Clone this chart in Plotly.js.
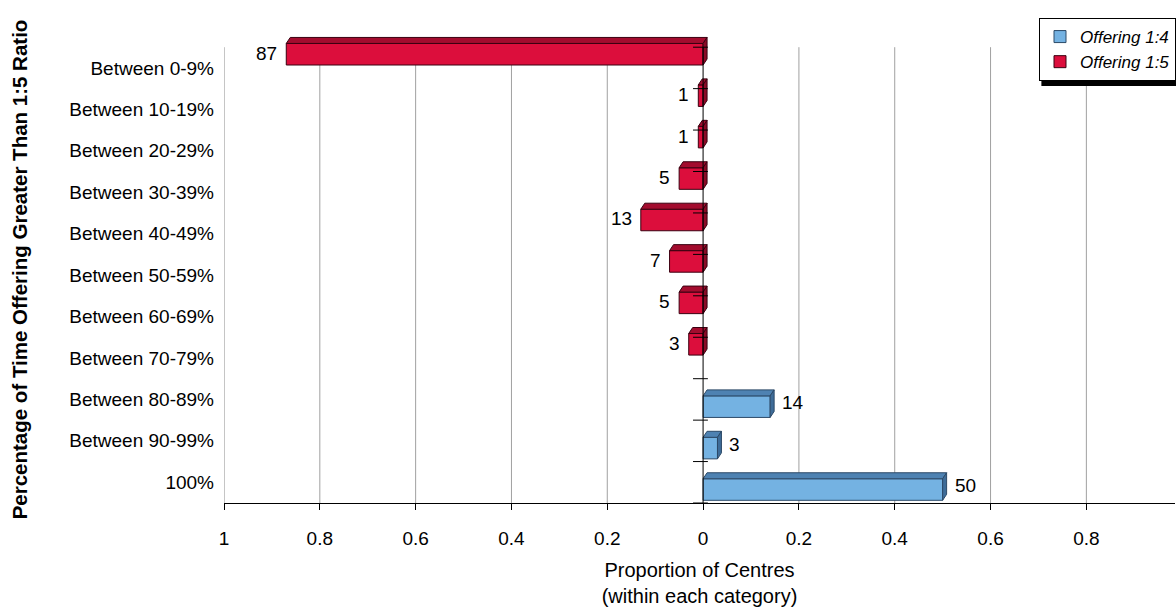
<!DOCTYPE html>
<html>
<head>
<meta charset="utf-8">
<script src="https://cdn.plot.ly/plotly-3.0.1.min.js"></script>
<style>html,body{margin:0;padding:0;background:#fff;}#chart{width:1176px;height:607px;}</style>
</head>
<body>
<div id="chart"></div>
<script>
// ---- data ----
const categories = ['Between 0-9%','Between 10-19%','Between 20-29%','Between 30-39%','Between 40-49%',
  'Between 50-59%','Between 60-69%','Between 70-79%','Between 80-89%','Between 90-99%','100%'];
const share14 = [null,null,null,null,null,null,null,null,0.14,0.03,0.50];   // Offering 1:4 (right)
const share15 = [0.87,0.01,0.01,0.05,0.13,0.07,0.05,0.03,null,null,null];   // Offering 1:5 (left)
const count14 = [null,null,null,null,null,null,null,null,14,3,50];
const count15 = [87,1,1,5,13,7,5,3,null,null,null];
const xTickVals = [-1,-0.8,-0.6,-0.4,-0.2,0,0.2,0.4,0.6,0.8,1];
const xTickText = ['1','0.8','0.6','0.4','0.2','0','0.2','0.4','0.6','0.8','1'];

// ---- styling ----
const FONT = 'Liberation Sans, Arial, sans-serif';
const BLUE = '#74B2E2', BLUE_TOP = '#4E82B2', BLUE_SIDE = '#3E6C98', BLUE_LINE = '#2C4A68';
const RED = '#DC0E3C', RED_TOP = '#A30C2E', RED_SIDE = '#8A0A26', RED_LINE = '#3A0010';
const W = 0.52;            // bar thickness (category units)
const OFF15 = -0.59, OFF14 = -0.085;
const DX = 0.0083, DY = 0.145;   // 3D depth (data units)

const idx = categories.map((c, i) => i);
const neg15 = share15.map(v => v == null ? null : -v);

const traces = [
  {type:'bar', orientation:'h', name:'Offering 1:4', y: idx, x: share14,
   offset: OFF14, width: W, marker:{color: BLUE, line:{color: BLUE_LINE, width:1}}, hoverinfo:'x+y'},
  {type:'bar', orientation:'h', name:'Offering 1:5', y: idx, x: neg15,
   offset: OFF15, width: W, marker:{color: RED, line:{color: RED_LINE, width:1}}, hoverinfo:'x+y'}
];

const shapes = [];
// gridlines & left axis line, limited to the category band
xTickVals.forEach(v => {
  if (v === 0 || v === 1) return;
  shapes.push({type:'line', xref:'x', yref:'y', x0:v, x1:v, y0:-0.5, y1:categories.length-0.5,
    line:{color: v === -1 ? '#8c8c8c' : '#a0a0a0', width:1}, layer:'below'});
});
// 3D faces of the bars
function faces(lo, hi, yTop, topCol, sideCol, lineCol, sideX) {
  const yT2 = yTop - DY, yB = yTop + W, yB2 = yB - DY;
  shapes.push({type:'path', xref:'x', yref:'y', layer:'above',
    path:`M ${lo},${yTop} L ${lo+DX},${yT2} L ${hi+DX},${yT2} L ${hi},${yTop} Z`,
    fillcolor: topCol, line:{color: lineCol, width:1}});
  shapes.push({type:'path', xref:'x', yref:'y', layer:'above',
    path:`M ${sideX},${yTop} L ${sideX+DX},${yT2} L ${sideX+DX},${yB2} L ${sideX},${yB} Z`,
    fillcolor: sideCol, line:{color: lineCol, width:1}});
}
idx.forEach(i => {
  if (share15[i] != null) faces(-share15[i], 0, i + OFF15, RED_TOP, RED_SIDE, RED_LINE, 0);
  if (share14[i] != null) faces(0, share14[i], i + OFF14, BLUE_TOP, BLUE_SIDE, BLUE_LINE, share14[i]);
});
// zero axis with cross ticks at category boundaries
shapes.push({type:'line', xref:'x', yref:'y', x0:0, x1:0, y0:-0.5, y1:categories.length-0.5,
  line:{color:'#000', width:1}, layer:'above'});
for (let k = 0; k <= categories.length; k++) {
  shapes.push({type:'line', xref:'x', yref:'y', x0:-0.021, x1:0.010, y0:k-0.5, y1:k-0.5,
    line:{color:'#000', width:1}, layer:'above'});
}
// legend shadow
shapes.push({type:'rect', xref:'paper', yref:'paper', x0:0.8595, x1:1.2, y0:0.893, y1:1.03,
  fillcolor:'#000', line:{width:0}, layer:'above'});

// data labels
const annotations = [];
idx.forEach(i => {
  if (count15[i] != null) annotations.push({x: -share15[i], y: i + OFF15 + W/2, xref:'x', yref:'y',
    text: String(count15[i]), showarrow:false, xanchor:'right', yanchor:'middle', xshift:-7, yshift:1,
    font:{family:FONT, size:19, color:'#000'}});
  if (count14[i] != null) annotations.push({x: share14[i], y: i + OFF14 + W/2, xref:'x', yref:'y',
    text: String(count14[i]), showarrow:false, xanchor:'left', yanchor:'middle', xshift:10, yshift:4,
    font:{family:FONT, size:19, color:'#000'}});
});

const layout = {
  width:1176, height:607,
  margin:{l:224, r:0, t:36, b:104, pad:0},
  paper_bgcolor:'#fff', plot_bgcolor:'#fff',
  font:{family:FONT, color:'#000'},
  barmode:'overlay',
  showlegend:true,
  legend:{x:0.857, xanchor:'left', y:1.0385, yanchor:'top', bgcolor:'#fff', bordercolor:'#000', borderwidth:1,
    font:{family:FONT, size:17, style:'italic', color:'#000'}, traceorder:'normal', itemwidth:30, tracegroupgap:0},
  xaxis:{range:[-1, 0.985], tickvals:xTickVals, ticktext:xTickText, showgrid:false, zeroline:false,
    showline:true, linecolor:'#000', linewidth:1, ticks:'outside', ticklen:6, tickcolor:'#000',
    ticklabelstandoff:12, tickfont:{family:FONT, size:19, color:'#000'},
    title:{text:'Proportion of Centres<br>(within each category)', standoff:17, font:{family:FONT, size:20, color:'#000'}}},
  yaxis:{range:[categories.length-0.5, -0.77], tickvals:idx, ticktext:categories, showgrid:false, zeroline:false,
    showline:false, ticks:'', ticklabelstandoff:9, tickfont:{family:FONT, size:19, color:'#000'},
    title:{text:'Percentage of Time Offering Greater Than 1:5 Ratio', standoff:36,
      font:{family:FONT, size:20.5, weight:'bold', color:'#000'}}},
  shapes: shapes,
  annotations: annotations
};

Plotly.newPlot('chart', traces, layout, {displayModeBar:false, staticPlot:true});
</script>
</body>
</html>
